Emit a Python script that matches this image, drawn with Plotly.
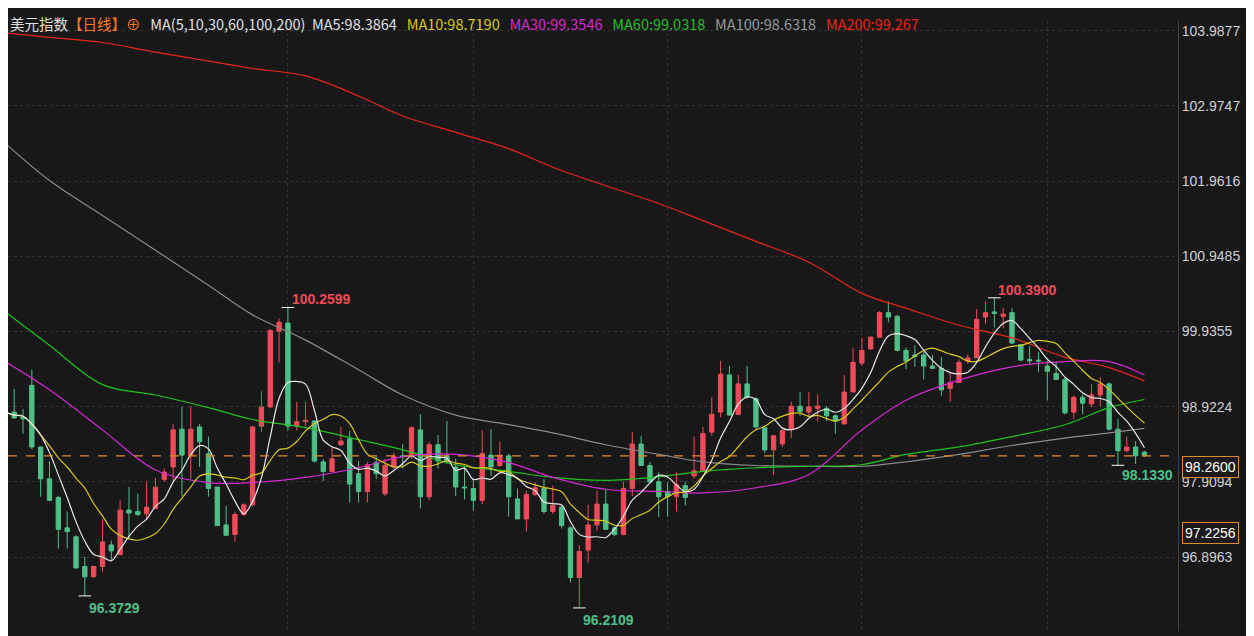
import plotly.graph_objects as go
import pandas as pd

opens = [98.81,98.85,98.78,99.21,98.38,97.95,97.70,97.29,97.17,96.77,96.63,96.77,97.06,96.93,97.53,97.51,97.48,97.55,97.94,98.11,
98.62,98.27,98.65,98.29,97.84,97.33,97.20,97.47,97.60,98.66,98.92,99.94,100.05,98.66,98.72,98.73,98.18,98.05,98.41,98.49,
98.02,97.78,98.17,97.75,98.11,98.26,98.25,98.61,97.71,98.41,98.26,98.11,97.84,97.82,97.66,98.27,98.13,98.26,97.68,97.41,
97.74,97.82,97.51,97.57,97.29,96.62,96.99,97.33,97.61,97.29,97.20,97.82,98.42,98.13,97.91,97.78,97.71,97.86,97.99,98.06,
98.58,98.85,99.35,98.82,99.23,99.03,98.64,98.34,98.42,98.62,98.93,98.85,98.90,98.90,98.80,98.69,99.12,99.51,99.70,99.86,
100.19,100.14,99.68,99.62,99.62,99.47,99.44,99.17,99.25,99.54,99.58,100.13,100.20,100.14,100.19,99.76,99.56,99.55,99.47,99.37,
99.29,98.85,99.05,98.96,99.08,99.23,98.62,98.33,98.38,98.31]
highs = [99.00,99.16,98.89,99.42,98.38,98.19,97.72,97.51,97.19,96.90,96.78,97.41,97.12,97.66,97.84,97.75,97.91,97.96,98.09,98.69,
98.92,98.93,98.69,98.52,97.84,97.59,97.51,97.62,98.66,99.13,99.97,100.11,100.2599,98.99,98.99,98.74,98.22,98.38,98.65,98.60,
98.19,98.18,98.25,98.22,98.30,98.42,98.66,98.82,98.45,98.54,98.73,98.22,98.13,97.95,98.60,98.62,98.45,98.29,97.82,97.79,
97.91,97.95,97.86,97.59,97.31,97.06,97.60,97.79,97.80,97.31,97.91,98.58,98.53,98.18,98.04,97.91,98.04,97.91,98.52,98.65,
99.05,99.54,99.47,99.35,99.47,99.05,98.64,98.54,98.62,98.99,99.12,99.12,99.09,98.93,98.82,99.35,99.72,99.85,99.87,100.21,
100.34,100.16,99.72,99.75,99.66,99.62,99.59,99.39,99.56,99.63,100.24,100.34,100.39,100.25,100.25,99.76,99.74,99.66,99.54,99.52,
99.32,99.07,99.09,99.23,99.32,99.25,98.76,98.52,98.46,98.33]
lows = [98.60,98.76,98.56,98.35,97.71,97.66,97.01,97.01,96.74,96.3729,96.62,96.70,96.85,96.92,97.14,97.45,97.41,97.55,97.91,97.92,
97.72,97.95,98.11,97.71,97.32,97.19,97.10,97.45,97.58,98.58,98.90,99.52,98.60,98.60,98.66,98.17,97.92,98.04,98.39,97.63,
97.63,97.63,97.95,97.72,98.08,98.09,98.22,97.55,97.66,98.09,98.15,97.72,97.67,97.52,97.61,97.99,98.11,97.44,97.41,97.24,
97.72,97.48,97.48,97.28,96.55,96.2109,96.82,97.25,97.27,97.18,97.19,97.72,98.13,97.91,97.44,97.44,97.51,97.59,97.95,98.05,
98.53,98.78,98.80,98.81,99.03,98.62,98.30,98.00,98.38,98.50,98.80,98.80,98.72,98.73,98.56,98.69,99.12,99.47,99.69,99.85,
100.06,99.67,99.43,99.46,99.29,99.43,99.07,98.99,99.25,99.50,99.58,100.04,99.99,99.98,99.77,99.55,99.50,99.39,99.01,99.28,
98.82,98.76,98.82,98.92,98.93,98.60,98.133,98.31,98.15,98.25]
closes = [98.85,98.77,98.76,98.38,97.95,97.66,97.27,97.24,96.75,96.63,96.77,97.10,96.98,97.53,97.49,97.47,97.57,97.84,98.04,98.61,
98.27,98.62,98.45,97.82,97.32,97.19,97.47,97.60,98.65,98.92,99.95,100.06,98.66,98.72,98.74,98.19,98.05,98.22,98.46,97.88,
97.78,98.14,98.02,98.13,98.25,98.25,98.64,97.71,98.41,98.19,98.19,97.84,97.83,97.66,98.29,98.11,98.27,97.71,97.41,97.74,
97.83,97.51,97.59,97.32,96.62,96.97,97.33,97.61,97.27,97.20,97.82,98.42,98.13,97.91,97.71,97.71,97.87,97.70,98.06,98.56,
98.82,99.36,98.81,99.23,99.05,98.65,98.34,98.53,98.60,98.93,98.86,98.92,98.93,98.80,98.73,99.12,99.52,99.68,99.86,100.19,
100.13,99.68,99.54,99.60,99.47,99.44,99.15,99.25,99.52,99.58,100.10,100.19,100.18,100.17,99.78,99.55,99.54,99.54,99.40,99.29,
98.84,99.05,98.97,99.08,99.23,98.62,98.33,98.38,98.26,98.26]

ma_idx = [0,5,11,17,23,28,34,40,45,51,57,62,68,74,79,85,91,97,102,108,114,120,125,129]
ma30 = [99.53,99.15,98.61,98.07,97.90,97.90,97.97,98.10,98.25,98.28,98.17,97.97,97.81,97.78,97.76,97.83,98.01,98.61,99.01,99.28,99.46,99.53,99.53,99.35]
ma60 = [100.20,99.75,99.22,99.08,98.91,98.75,98.64,98.48,98.34,98.14,98.05,97.97,97.93,97.98,98.05,98.10,98.12,98.14,98.28,98.38,98.52,98.68,98.91,99.02]
ma100 = [102.47,101.97,101.50,101.03,100.56,100.16,99.82,99.42,99.08,98.81,98.68,98.57,98.41,98.28,98.18,98.13,98.12,98.12,98.18,98.28,98.40,98.50,98.57,98.63]
ma200 = [103.96,103.90,103.83,103.70,103.58,103.48,103.38,103.11,102.84,102.62,102.40,102.15,101.90,101.66,101.43,101.15,100.87,100.45,100.25,100.02,99.85,99.59,99.45,99.27]

tick_vals = [103.9877,102.9747,101.9616,100.9485,99.9355,98.9224,97.9094,96.8963]
last_price = 98.26
side_label = 97.2256

idx = list(range(len(closes)))
s = pd.Series(closes)
ma5 = s.rolling(5, min_periods=1).mean()
ma10 = s.rolling(10, min_periods=1).mean()

RED = "#ee4c5a"; GREEN = "#4fbf8a"
fig = go.Figure()
fig.add_trace(go.Candlestick(x=idx, open=opens, high=highs, low=lows, close=closes,
    increasing=dict(line=dict(color=RED, width=1), fillcolor=RED),
    decreasing=dict(line=dict(color=GREEN, width=1), fillcolor=GREEN),
    whiskerwidth=0, showlegend=False, hoverinfo="skip"))
lw = 1.2
fig.add_trace(go.Scatter(x=ma_idx, y=ma200, mode="lines", line=dict(color="#e8261f", width=lw, shape="spline"), showlegend=False))
fig.add_trace(go.Scatter(x=ma_idx, y=ma100, mode="lines", line=dict(color="#8a8a8a", width=lw, shape="spline"), showlegend=False))
fig.add_trace(go.Scatter(x=ma_idx, y=ma60, mode="lines", line=dict(color="#1fc21f", width=lw, shape="spline"), showlegend=False))
fig.add_trace(go.Scatter(x=ma_idx, y=ma30, mode="lines", line=dict(color="#d42ad4", width=lw, shape="spline"), showlegend=False))
fig.add_trace(go.Scatter(x=idx, y=ma10, mode="lines", line=dict(color="#d8c81a", width=lw, shape="spline"), showlegend=False))
fig.add_trace(go.Scatter(x=idx, y=ma5, mode="lines", line=dict(color="#e8e8e8", width=lw, shape="spline"), showlegend=False))

fig.add_hline(y=last_price, line=dict(color="#e08a2a", width=1.2, dash="dash"))

hi_i = highs.index(max(highs[:60])); lo_i = lows.index(min(lows[:30]))
lo2 = lows.index(min(lows)); hi2 = highs.index(max(highs))
lo3 = len(lows) - 4 + lows[-4:].index(min(lows[-4:]))
fig.add_trace(go.Scatter(x=[hi_i, lo_i, lo2, hi2, lo3], y=[highs[hi_i], lows[lo_i], lows[lo2], highs[hi2], lows[lo3]],
    mode="markers", marker=dict(symbol="line-ew", size=9, line=dict(color="white", width=1)), showlegend=False))
anns = [(hi_i, highs[hi_i], f"{highs[hi_i]:.4f}", RED, -8),
        (lo_i, lows[lo_i], f"{lows[lo_i]:.4f}", GREEN, 12),
        (lo2, lows[lo2], f"{lows[lo2]:.4f}", GREEN, 12),
        (hi2, highs[hi2], f"{highs[hi2]:.4f}", RED, -8),
        (lo3, lows[lo3], f"{lows[lo3]:.4f}", GREEN, 10)]
for x, y, t, c, dy in anns:
    fig.add_annotation(x=x, y=y, text=f"<b>{t}</b>", showarrow=False, xanchor="left", xshift=2, yshift=-dy,
                       font=dict(color=c, size=14, family="Arial"))

for v in [last_price, side_label]:
    fig.add_annotation(xref="paper", x=1.0, y=v, text=f"{v:.4f}", showarrow=False, xanchor="left", xshift=4,
                       yshift=-11 if v == last_price else 0,
                       font=dict(color="#ffffff", size=14, family="Arial"), bgcolor="#1a1a1a",
                       bordercolor="#e08a2a", borderwidth=1, borderpad=2)

title = ("<span style='color:#e0e0e0'>美元指数</span><span style='color:#ff7a1a'>【日线】⊕</span>   "
         "<span style='color:#e0e0e0'>MA(5,10,30,60,100,200)  MA5:98.3864</span>   "
         "<span style='color:#d8c81a'>MA10:98.7190</span>   <span style='color:#d42ad4'>MA30:99.3546</span>   "
         "<span style='color:#1fc21f'>MA60:99.0318</span>   <span style='color:#9a9a9a'>MA100:98.6318</span>   "
         "<span style='color:#e8261f'>MA200:99.267</span>")
fig.add_annotation(xref="paper", yref="paper", x=0, y=1.0, yshift=-2, xanchor="left", yanchor="middle",
                   text=title, showarrow=False, font=dict(size=14.5, family="Noto Sans CJK SC"))

fig.update_layout(width=1254, height=636, paper_bgcolor="#181818", plot_bgcolor="#181818",
                  margin=dict(l=0, r=84, t=13, b=13),
                  xaxis=dict(range=[0.3, 132.8], rangeslider=dict(visible=False), showticklabels=False,
                             tickvals=[32, 53, 75, 97, 118], showgrid=True, gridcolor="#333333", griddash="dot",
                             zeroline=False, showline=False),
                  yaxis=dict(side="right", range=[95.9, 104.12], tickvals=tick_vals,
                             ticktext=[f"{v:.4f}" for v in tick_vals], showgrid=True, gridcolor="#333333",
                             griddash="dot", zeroline=False, tickfont=dict(color="#d0d0d0", size=14, family="Arial"),
                             ticks="", showline=True, linecolor="#444444"))
fig.write_html("out.html")
